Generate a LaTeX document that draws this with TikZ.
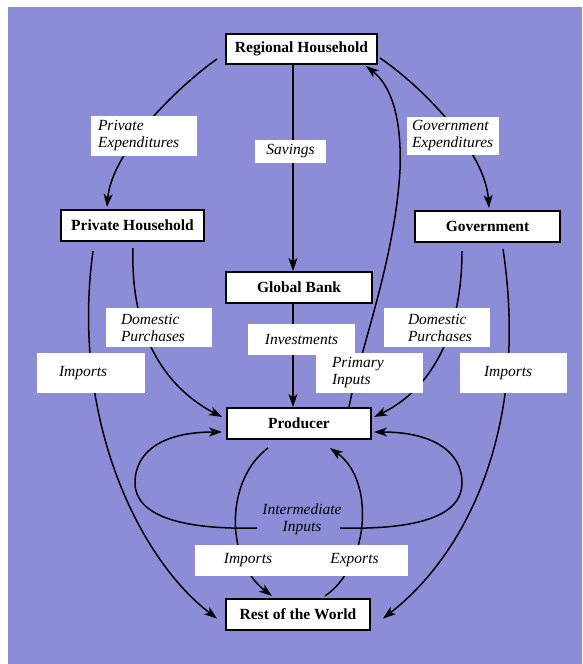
\documentclass[tikz,border=0pt]{standalone}
\usepackage{fontspec}
\setmainfont{Liberation Serif}
\usetikzlibrary{arrows.meta,calc}
\definecolor{bgblue}{RGB}{141,141,215}
\pgfdeclarelayer{bg}
\pgfdeclarelayer{lines}
\pgfsetlayers{bg,lines,main}
\begin{document}
\begin{tikzpicture}[x=1pt,y=-1pt,
  box/.style={draw, line width=2pt, fill=white, inner sep=0pt,
    font=\bfseries\fontsize{15.5}{17}\selectfont,
    minimum width=#1, minimum height=31pt},
  lbl/.style 2 args={fill=white, inner sep=0pt, text width=#1, minimum height=#2,
    align=left, font=\itshape\fontsize{15.5}{17}\selectfont},
  clbl/.style 2 args={fill=white, inner sep=0pt, text width=#1, minimum height=#2,
    align=center, font=\itshape\fontsize{15.5}{17}\selectfont},
  conn/.style={line width=1.5pt, -{Stealth[length=13pt,width=9pt,inset=3.5pt]}}
]
\useasboundingbox (0,0) rectangle (582,664);
\begin{pgfonlayer}{bg}
  \fill[bgblue] (8,7) rectangle (582,664);
\end{pgfonlayer}

% main boxes
\node[box=151, minimum height=30pt] (rh)  at (301.5,49)   {Regional Household};
\node[box=143] (ph)  at (132.5,225.5) {Private Household};
\node[box=145] (gov) at (487.5,226.5) {Government};
\node[box=146] (gb)  at (299,287.5)   {Global Bank};
\node[box=144] (prod) at (299,423.5)  {Producer};
\node[box=144] (row) at (298,614.5)   {Rest of the World};

% labels
\node[lbl={106pt}{40pt}] (lpe) at (144,136) {\hspace*{7pt}Private\\\hspace*{7pt}Expenditures};
\node[clbl={71pt}{23pt}] (lsav) at (290.5,151.5) {Savings};
\node[lbl={92pt}{38pt}] (lge) at (453,136) {\hspace*{5pt}Government\\\hspace*{5pt}Expenditures};
\node[lbl={106pt}{39pt}] (ldpl) at (159,327.5) {\hspace*{15pt}Domestic\\\hspace*{15pt}Purchases};
\node[lbl={108pt}{40pt}] (limpl) at (91,373) {\hspace*{22pt}Imports};
\node[clbl={107pt}{31pt}] (linv) at (301.5,339.5) {Investments};
\node[lbl={107pt}{40pt}] (lpi) at (369.5,373) {\hspace*{16pt}Primary\\\hspace*{16pt}Inputs};
\node[lbl={106pt}{39pt}] (ldpr) at (437,327.5) {\hspace*{24pt}Domestic\\\hspace*{24pt}Purchases};
\node[lbl={107pt}{40pt}] (limpr) at (513.5,373) {\hspace*{24pt}Imports};
\node[align=center, inner sep=2pt, font=\itshape\fontsize{15.5}{17}\selectfont] (lii) at (302,519.5) {Intermediate\\Inputs};
\node[clbl={106pt}{31pt}] (limpb) at (248,560.5) {Imports};
\node[clbl={107pt}{31pt}] (lexp) at (354.5,560.5) {Exports};

\begin{pgfonlayer}{lines}
% regional household flows
\draw[conn] ($(rh.south west)+(-8,-6)$) .. controls (180,85) and (112,150) .. ($(ph.north west)+(47,-2)$);
\draw[conn] ($(rh.south east)+(2,-7)$) .. controls (420,85) and (485,150) .. ($(gov.north west)+(75,-2)$);
\draw[conn] ($(rh.south)+(-8.5,0)$) -- ($(gb.north)+(-6,0)$);
% primary inputs
\draw[conn] ($(prod.north)+(50,0)$) .. controls (360,350) and (395,260) .. (400,170)
  .. controls (402,115) and (390,85) .. ($(rh.south)+(64.5,1)$);
% private household
\draw[conn] ($(ph.south)+(0.5,6)$) .. controls (130,340) and (170,390) .. ($(prod.west)+(-4,-6.5)$);
\draw[conn] ($(ph.south)+(-39.5,9)$) .. controls (70,420) and (140,560) .. ($(row.west)+(-8,4)$);
% global bank
\draw[conn] ($(gb.south)+(-6,0)$) -- ($(prod.north)+(-6,0)$);
% government
\draw[conn] ($(gov.south)+(-25.5,8)$) .. controls (462,335) and (430,390) .. ($(prod.east)+(2,-6.5)$);
\draw[conn] ($(gov.south)+(15.5,6)$) .. controls (530,430) and (465,555) .. ($(row.east)+(12,4)$);
% intermediate inputs loops
\draw[conn] ($(lii.west)+(-3,8.5)$) .. controls (180,530) and (135,515) .. (135,483)
  .. controls (135,450) and (165,432) .. ($(prod.west)+(-4,8.5)$);
\draw[conn] ($(lii.east)+(-4,8.5)$) .. controls (420,530) and (462,515) .. (462,483)
  .. controls (462,450) and (430,432) .. ($(prod.east)+(2,8.5)$);
% trade
\draw[conn] ($(prod.south)+(-31,8)$) .. controls (225,480) and (225,560) .. ($(row.north)+(-26,-2)$);
\draw[conn] ($(row.north)+(27,-2)$) .. controls (370,565) and (375,480) .. ($(prod.south)+(31,8)$);
\end{pgfonlayer}
\end{tikzpicture}
\end{document}
